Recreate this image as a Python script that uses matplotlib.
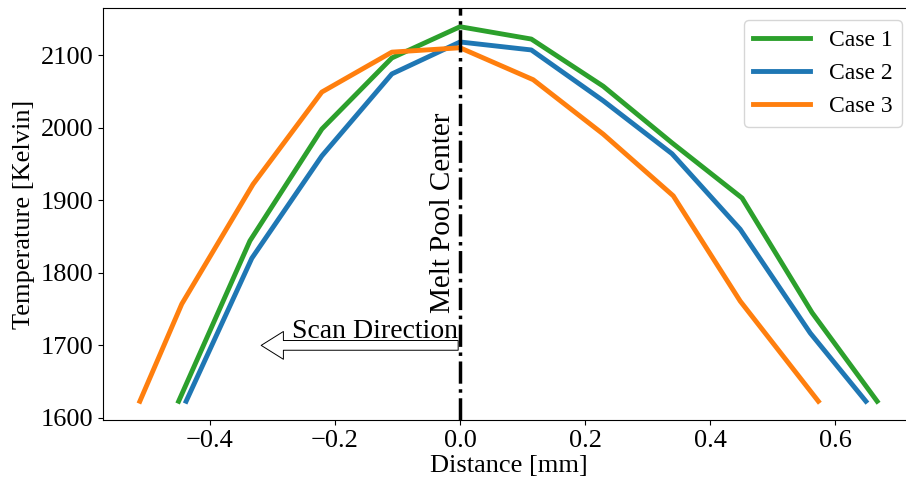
import matplotlib
matplotlib.use("Agg")
import matplotlib.pyplot as plt

plt.rcParams['font.family'] = ['Liberation Serif', 'DejaVu Serif']

# temperature profiles along the scan line
case1_x = [-0.450, -0.336, -0.221, -0.109, 0.0, 0.114, 0.229, 0.339, 0.451, 0.563, 0.667]
case1_y = [1623, 1844, 1998, 2096, 2139, 2122, 2057, 1979, 1903, 1745, 1623]

case2_x = [-0.438, -0.333, -0.221, -0.109, 0.0, 0.114, 0.229, 0.339, 0.448, 0.560, 0.649]
case2_y = [1623, 1820, 1961, 2074, 2118, 2107, 2037, 1964, 1860, 1717, 1623]

case3_x = [-0.512, -0.445, -0.331, -0.221, -0.109, 0.0, 0.117, 0.229, 0.341, 0.448, 0.573]
case3_y = [1623, 1757, 1922, 2049, 2104, 2110, 2066, 1991, 1906, 1761, 1623]

labels = ["Case 1", "Case 2", "Case 3"]
colors = ["#2ca02c", "#1f77b4", "#ff7f0e"]

fig = plt.figure(figsize=(9.06, 4.78), dpi=100)
ax = fig.add_axes([103 / 906, 58 / 478, 811 / 906, 412 / 478])

for xs, ys, lab, c in zip([case1_x, case2_x, case3_x], [case1_y, case2_y, case3_y], labels, colors):
    ax.plot(xs, ys, color=c, lw=3.5, label=lab)

ax.axvline(0.0, color='black', ls='-.', lw=2.5)

ax.text(-0.006, 1745, "Melt Pool Center", rotation=90,
        ha='right', va='bottom', fontsize=21)
ax.text(-0.004, 1710, "Scan Direction", ha='right', va='baseline', fontsize=20)
ax.annotate('', xy=(-0.318, 1700), xytext=(-0.003, 1700),
            arrowprops=dict(facecolor='white', edgecolor='black', lw=0.7,
                            width=7, headwidth=20, headlength=16, shrink=0))

ax.spines['right'].set_visible(False)
ax.set_xlabel("Distance [mm]", fontsize=19, labelpad=2)
ax.set_ylabel("Temperature [Kelvin]", fontsize=19)
ax.tick_params(labelsize=19)
ax.legend(loc='upper right', fontsize=17, handlelength=2.4)

fig.savefig("out.png", dpi=100)
